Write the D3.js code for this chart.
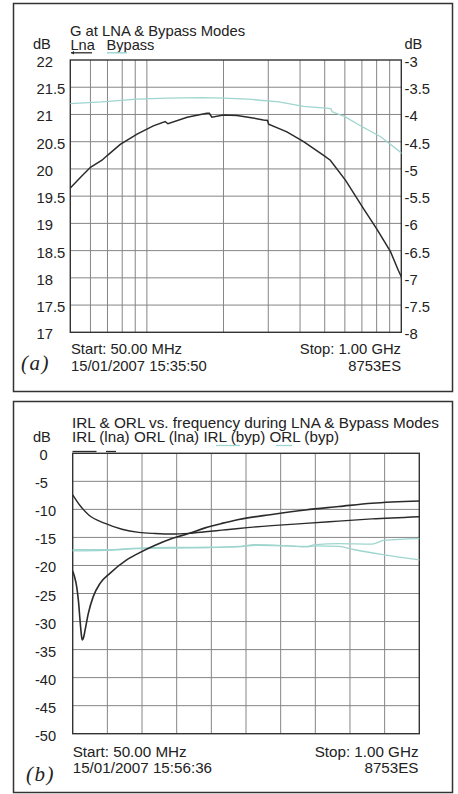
<!DOCTYPE html>
<html><head><meta charset="utf-8">
<script src="https://cdn.jsdelivr.net/npm/d3@7"></script>
<style>
html,body{margin:0;padding:0;background:#fff;}
svg text{font-family:"Liberation Sans",Arial,sans-serif;fill:#222;}
</style></head>
<body><svg id="c" width="458" height="794"></svg>
<script>
// ---------- Panel (a) data ----------
const titleA = "G at LNA & Bypass Modes";
const leftTicksA = [22,21.5,21,20.5,20,19.5,19,18.5,18,17.5,17];
const rightTicksA = [-3,-3.5,-4,-4.5,-5,-5.5,-6,-6.5,-7,-7.5,-8];
const gridFreqA = [60,70,80,90,100,200,300,400,500,600,700,800,900];
const lnaFreq = [50,55,60,66.6,70,78.6,91.5,106,118,121,144,172,176,180,200,226,250,287,298,301,355,413,495,526,604,704,805,907,973,1000];
const lnaGain = [19.65,19.85,20.03,20.16,20.25,20.45,20.64,20.79,20.87,20.83,20.95,21.02,21.02,20.95,20.99,20.98,20.95,20.90,20.89,20.82,20.68,20.50,20.25,20.16,19.79,19.30,18.88,18.48,18.14,18.02];
const bypFreq = [50,66.6,91.5,120,165,200,250,330,413,520,530,535,600,680,830,990,1000];
const bypGain = [-3.80,-3.77,-3.72,-3.70,-3.69,-3.70,-3.72,-3.77,-3.85,-3.89,-3.90,-3.95,-4.04,-4.19,-4.41,-4.69,-4.72];

// ---------- Panel (b) data ----------
const titleB = "IRL & ORL vs. frequency during LNA & Bypass Modes";
const ticksB = [0,-5,-10,-15,-20,-25,-30,-35,-40,-45,-50];
const gridFreqB = [145,240,335,430,525,620,715,810,905];
const irlLnaFreq = [50,55,61,66,70,74,76.3,80,84,93,106,125,152,198,231,276,322,368,413,459,505,596,688,779,870,1000];
const irlLna = [-21.0,-22.0,-23.8,-26.5,-29.7,-32.5,-33.3,-32.8,-31.5,-28.5,-25.6,-23.2,-21.4,-19.0,-17.8,-16.4,-15.2,-14.3,-13.3,-12.5,-11.8,-10.9,-10.1,-9.5,-8.9,-8.5];
const orlLnaFreq = [50,70,94,139,185,231,276,322,368,413,459,505,596,688,779,870,1000];
const orlLna = [-7.4,-9.3,-11.0,-12.5,-13.55,-14.1,-14.3,-14.4,-14.27,-14.0,-13.7,-13.4,-12.9,-12.5,-12.1,-11.7,-11.3];
const irlBypFreq = [50,139,231,322,413,505,550,642,688,715,779,870,905,1000];
const irlByp = [-17.2,-17.2,-16.9,-16.8,-16.8,-16.6,-16.3,-16.5,-16.6,-16.3,-16.1,-16.2,-15.5,-15.2];
const orlBypFreq = [50,139,231,322,413,505,550,642,688,715,779,823,905,1000];
const orlByp = [-17.4,-17.3,-17.0,-16.9,-16.8,-16.7,-16.4,-16.5,-16.7,-16.5,-16.6,-17.2,-18.1,-19.0];

const DARK = "#2b2b2b", CYAN = "#9fd5cf", GRID = "#858585";
const svg = d3.select("#c");

function box(x0,y0,x1,y1){
  svg.append("rect").attr("x",x0).attr("y",y0).attr("width",x1-x0).attr("height",y1-y0)
    .attr("fill","none").attr("stroke","#333").attr("stroke-width",1.5);
}
function txt(x,y,s,anchor,fs){
  return svg.append("text").attr("x",x).attr("y",y).attr("font-size",fs||14.5)
    .attr("text-anchor",anchor||"start").text(s);
}

// ================= Panel (a) =================
box(13.5,3.5,452.5,391.5);
const xa = d3.scaleLog().domain([50,1000]).range([70.3,401.3]);
const yaL = d3.scaleLinear().domain([17,22]).range([332.3,60]);
const yaR = d3.scaleLinear().domain([-8,-3]).range([332.3,60]);
const ga = svg.append("g");
ga.selectAll("line.v").data(gridFreqA).join("line")
  .attr("x1",d=>xa(d)).attr("x2",d=>xa(d)).attr("y1",60).attr("y2",332.3)
  .attr("stroke",GRID).attr("stroke-width",1);
ga.selectAll("line.h").data(leftTicksA.slice(1,-1)).join("line")
  .attr("x1",70.3).attr("x2",401.3).attr("y1",d=>yaL(d)).attr("y2",d=>yaL(d))
  .attr("stroke",GRID).attr("stroke-width",1);
ga.append("rect").attr("x",70.3).attr("y",60).attr("width",331).attr("height",272.3)
  .attr("fill","none").attr("stroke","#333").attr("stroke-width",1.4);
leftTicksA.forEach(v=>txt(36.5,yaL(v)+7,String(v),"start",14.8));
rightTicksA.forEach(v=>txt(404.5,yaR(v)+7,String(v),"start",14.8));
txt(33,49,"dB",null,14.6); txt(404.5,49,"dB",null,14.6);
txt(70,35.5,titleA,null,14.8);
txt(70.5,49.5,"Lna",null,14.6); txt(106.5,49.5,"Bypass",null,14.6);
svg.append("line").attr("x1",71).attr("x2",92).attr("y1",52.8).attr("y2",52.8).attr("stroke",DARK).attr("stroke-width",1.3);
svg.append("path").attr("d","M71,52.8 l3,-1.8 v3.6 z").attr("fill",DARK);
svg.append("line").attr("x1",107).attr("x2",127).attr("y1",52.8).attr("y2",52.8).attr("stroke",CYAN).attr("stroke-width",1.5);

svg.append("path").datum(bypFreq.map((f,i)=>[f,bypGain[i]]))
  .attr("d",d3.line().x(d=>xa(d[0])).y(d=>yaR(d[1]))).attr("fill","none").attr("stroke",CYAN).attr("stroke-width",1.3);
svg.append("path").datum(lnaFreq.map((f,i)=>[f,lnaGain[i]]))
  .attr("d",d3.line().x(d=>xa(d[0])).y(d=>yaL(d[1]))).attr("fill","none").attr("stroke",DARK).attr("stroke-width",1.5);

txt(71,354,"Start: 50.00 MHz",null,14.8);
txt(71,371,"15/01/2007 15:35:50",null,14.8);
txt(401,354,"Stop: 1.00 GHz","end",14.8);
txt(401,371,"8753ES","end",14.8);
svg.append("text").attr("x",21).attr("y",370).attr("font-size",21).attr("font-style","italic")
  .attr("letter-spacing",1.5).style("font-family","'Liberation Serif','Times New Roman',serif").text("(a)");

// ================= Panel (b) =================
box(13.5,401.5,452.5,792.5);
const xb = d3.scaleLinear().domain([50,1000]).range([72.7,419.3]);
const yb = d3.scaleLinear().domain([-50,0]).range([733.7,453.3]);
const gb = svg.append("g");
gb.selectAll("line.v").data(gridFreqB).join("line")
  .attr("x1",d=>xb(d)).attr("x2",d=>xb(d)).attr("y1",453.3).attr("y2",733.7)
  .attr("stroke",GRID).attr("stroke-width",1);
gb.selectAll("line.h").data(ticksB.slice(1,-1)).join("line")
  .attr("x1",72.7).attr("x2",419.3).attr("y1",d=>yb(d)).attr("y2",d=>yb(d))
  .attr("stroke",GRID).attr("stroke-width",1);
gb.append("rect").attr("x",72.7).attr("y",453.3).attr("width",346.6).attr("height",280.4)
  .attr("fill","none").attr("stroke","#333").attr("stroke-width",1.4);
ticksB.forEach(v=>txt(v<0?35:39.5,yb(v)+7,String(v),"start",14.6));
txt(33,442,"dB",null,14.6);
txt(72,428,titleB,null,15.3);
txt(72,442,"IRL (lna) ORL (lna) IRL (byp) ORL (byp)",null,15.2);
svg.append("line").attr("x1",72.5).attr("x2",96.5).attr("y1",451.5).attr("y2",451.5).attr("stroke",DARK).attr("stroke-width",1.3);
svg.append("line").attr("x1",106).attr("x2",116).attr("y1",451.5).attr("y2",451.5).attr("stroke",DARK).attr("stroke-width",1.3);
svg.append("line").attr("x1",216).attr("x2",240).attr("y1",445.5).attr("y2",445.5).attr("stroke",CYAN).attr("stroke-width",1.3);
svg.append("line").attr("x1",276).attr("x2",292).attr("y1",445.5).attr("y2",445.5).attr("stroke",CYAN).attr("stroke-width",1.3);

const lb = d3.line().x(d=>xb(d[0])).y(d=>yb(d[1])).curve(d3.curveMonotoneX);
[[irlBypFreq,irlByp,CYAN,1.3],[orlBypFreq,orlByp,CYAN,1.3],[orlLnaFreq,orlLna,DARK,1.4],[irlLnaFreq,irlLna,DARK,1.6]]
.forEach(([f,v,c,w])=>{
  svg.append("path").datum(f.map((q,i)=>[q,v[i]])).attr("d",lb)
    .attr("fill","none").attr("stroke",c).attr("stroke-width",w);
});

txt(72.7,756.5,"Start: 50.00 MHz",null,15.2);
txt(72.7,772.5,"15/01/2007 15:56:36",null,15.2);
txt(418.5,756.5,"Stop: 1.00 GHz","end",15.2);
txt(418.5,772.5,"8753ES","end",15.2);
svg.append("text").attr("x",26).attr("y",781).attr("font-size",21).attr("font-style","italic")
  .attr("letter-spacing",1.5).style("font-family","'Liberation Serif','Times New Roman',serif").text("(b)");
</script></body></html>
